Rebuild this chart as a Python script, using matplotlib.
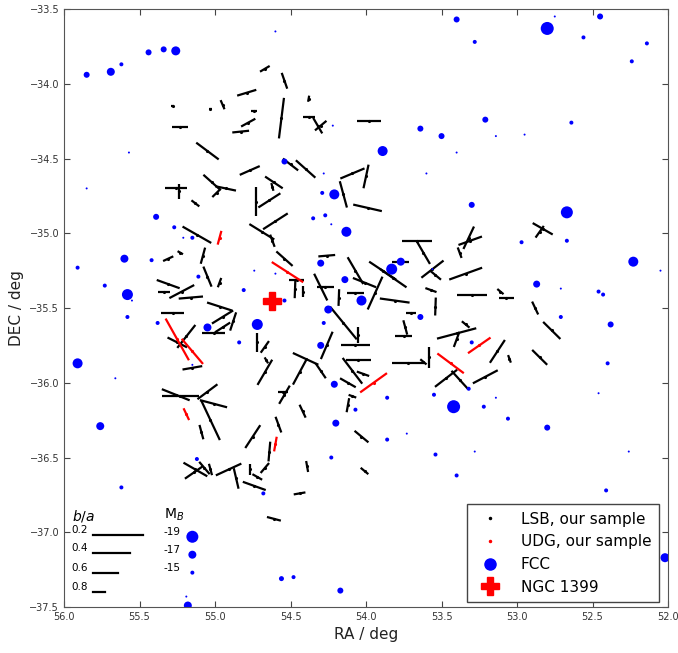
import numpy as np
import matplotlib
matplotlib.use("Agg")
import matplotlib.pyplot as plt
from matplotlib.collections import LineCollection
from matplotlib.lines import Line2D

# LSB galaxies, our sample: RA, DEC (deg), position angle (deg, N through E), axis ratio b/a
lsb_ra = [54.67, 54.54, 54.79, 54.95, 55.03, 55.28, 54.74, 54.56, 54.38, 54.38,
          54.32, 54.30, 53.98, 55.23, 54.78, 54.83, 55.05, 54.77, 54.50, 54.40,
          55.26, 55.24, 55.02, 54.93, 54.99, 54.61, 54.62, 55.13, 54.73, 54.64,
          54.09, 54.15, 54.00, 53.99, 55.12, 54.69, 54.60, 54.62, 55.08, 55.23,
          55.31, 54.54, 54.47, 54.42, 54.46, 55.05, 54.97, 55.31, 55.22, 55.34,
          55.16, 54.97, 55.28, 54.88, 54.95, 55.19, 55.25, 55.01, 54.95, 55.15,
          54.72, 54.67, 54.66, 54.67, 54.40, 54.44, 54.30, 54.26, 54.15, 54.30,
          54.27, 54.26, 54.18, 54.07, 54.07, 54.01, 53.89, 53.82, 53.94, 53.81,
          54.07, 54.05, 54.09, 54.05, 54.02, 54.12, 54.09, 54.42, 54.54, 54.55,
          55.26, 55.23, 55.05, 55.01, 55.03, 55.09, 54.75, 54.58, 54.64, 55.13,
          55.14, 55.07, 55.03, 54.91, 54.86, 54.74, 54.77, 54.72, 54.67, 54.39,
          54.44, 54.61, 54.01, 54.03, 54.12, 52.83, 52.85, 53.66, 53.62, 53.32,
          53.31, 53.38, 53.77, 53.56, 53.54, 53.34, 53.57, 53.54, 53.30, 53.07,
          53.11, 52.88, 53.70, 53.74, 53.75, 53.40, 53.34, 53.40, 53.13, 53.05,
          52.85, 52.77, 53.72, 53.58, 53.62, 53.47, 53.38, 53.21]
lsb_dec = [-33.90, -33.98, -34.06, -34.14, -34.17, -34.15, -34.18, -34.23, -34.10, -34.22,
           -34.28, -34.28, -34.25, -34.29, -34.26, -34.32, -34.45, -34.58, -34.54, -34.57,
           -34.70, -34.72, -34.66, -34.70, -34.73, -34.66, -34.69, -34.80, -34.79, -34.78,
           -34.60, -34.74, -34.62, -34.83, -35.01, -34.99, -34.92, -35.05, -35.15, -35.13,
           -35.17, -35.17, -35.37, -35.39, -35.31, -35.29, -35.33, -35.34, -35.39, -35.39,
           -35.43, -35.49, -35.53, -35.59, -35.56, -35.69, -35.73, -35.67, -35.63, -35.90,
           -35.73, -35.76, -35.85, -35.93, -35.84, -35.93, -35.92, -35.75, -35.60, -35.36,
           -35.36, -35.15, -35.43, -35.40, -35.25, -35.33, -35.25, -35.30, -35.40, -35.45,
           -35.75, -35.68, -35.92, -35.85, -35.94, -36.00, -36.09, -36.19, -36.08, -36.06,
           -36.08, -36.09, -36.06, -36.14, -36.25, -36.33, -36.36, -36.28, -36.46, -36.58,
           -36.60, -36.57, -36.58, -36.58, -36.64, -36.69, -36.58, -36.63, -36.57, -36.56,
           -36.74, -36.91, -36.59, -36.36, -36.15, -34.97, -34.99, -35.05, -35.13, -35.03,
           -35.05, -35.13, -35.19, -35.24, -35.28, -35.27, -35.38, -35.49, -35.41, -35.43,
           -35.39, -35.50, -35.53, -35.63, -35.69, -35.67, -35.61, -35.71, -35.79, -35.84,
           -35.83, -35.65, -35.87, -35.83, -35.86, -35.97, -35.98, -35.96]
lsb_pa = [121, 19, 107, 23, 90, 90, 90, 173, 170, 90,
          30, 130, 90, 90, 119, 96, 53, 114, 52, 48,
          90, 0, 48, 78, 135, 56, 15, 52, 0, 123,
          113, 15, 168, 77, 60, 58, 123, 20, 165, 60,
          115, 48, 178, 0, 90, 22, 160, 70, 118, 90,
          95, 72, 90, 162, 122, 142, 63, 90, 123, 100,
          0, 145, 30, 150, 65, 152, 34, 157, 39, 26,
          90, 95, 178, 90, 30, 68, 56, 55, 156, 82,
          90, 0, 37, 90, 70, 60, 70, 25, 150, 90,
          68, 90, 127, 75, 25, 15, 147, 20, 175, 60,
          125, 40, 15, 115, 13, 70, 0, 60, 140, 10,
          100, 75, 50, 50, 170, 60, 145, 90, 30, 155,
          110, 20, 90, 128, 50, 110, 70, 178, 90, 90,
          50, 25, 90, 15, 90, 105, 50, 160, 147, 20,
          45, 45, 90, 0, 50, 128, 42, 118]
lsb_ba = [0.82, 0.73, 0.68, 0.84, 0.95, 0.95, 0.90, 0.34, 0.90, 0.81,
          0.71, 0.76, 0.63, 0.74, 0.74, 0.73, 0.55, 0.65, 0.69, 0.58,
          0.65, 0.77, 0.63, 0.66, 0.81, 0.66, 0.87, 0.84, 0.53, 0.58,
          0.58, 0.56, 0.61, 0.53, 0.47, 0.53, 0.53, 0.79, 0.73, 0.90,
          0.82, 0.65, 0.69, 0.81, 0.76, 0.65, 0.84, 0.61, 0.55, 0.81,
          0.61, 0.58, 0.63, 0.69, 0.60, 0.53, 0.65, 0.63, 0.71, 0.68,
          0.68, 0.77, 0.89, 0.53, 0.55, 0.55, 0.71, 0.52, 0.32, 0.52,
          0.73, 0.73, 0.73, 0.73, 0.50, 0.60, 0.48, 0.48, 0.42, 0.52,
          0.55, 0.74, 0.48, 0.60, 0.79, 0.71, 0.87, 0.77, 0.66, 0.84,
          0.52, 0.40, 0.60, 0.55, 0.29, 0.76, 0.56, 0.73, 0.68, 0.56,
          0.65, 0.74, 0.81, 0.55, 0.66, 0.61, 0.81, 0.82, 0.79, 0.82,
          0.81, 0.77, 0.84, 0.71, 0.77, 0.63, 0.77, 0.52, 0.58, 0.60,
          0.60, 0.82, 0.73, 0.55, 0.77, 0.44, 0.81, 0.71, 0.52, 0.77,
          0.87, 0.77, 0.84, 0.76, 0.73, 0.35, 0.84, 0.74, 0.56, 0.87,
          0.66, 0.61, 0.47, 0.66, 0.87, 0.55, 0.61, 0.55]

# UDGs, our sample
udg_ra = [54.97, 54.52, 55.25, 55.15, 55.19, 54.60, 53.95, 53.25, 53.44]
udg_dec = [-35.03, -35.26, -35.71, -35.79, -36.21, -36.41, -36.00, -35.75, -35.87]
udg_pa = [165, 57, 29, 40, 25, 170, 126, 125, 53]
udg_ba = [0.77, 0.40, 0.23, 0.47, 0.79, 0.76, 0.47, 0.56, 0.47]

# FCC galaxies: RA, DEC, absolute magnitude M_B
fcc_ra = [55.85, 55.69, 55.62, 55.44, 55.34, 55.26, 54.60, 55.57, 55.85, 54.54,
          54.21, 54.22, 54.29, 54.28, 53.40, 52.80, 52.45, 52.75, 53.28, 52.56,
          52.14, 52.24, 53.64, 53.50, 53.21, 52.64, 52.95, 53.14, 53.40, 53.60,
          53.89, 53.30, 52.67, 52.97, 52.67, 52.87, 53.77, 53.83, 53.56, 53.64,
          52.71, 52.46, 52.43, 52.38, 52.40, 52.46, 53.30, 53.32, 52.71, 55.39,
          55.27, 55.21, 55.15, 55.42, 55.11, 54.81, 54.74, 54.60, 54.13, 54.27,
          54.35, 54.23, 54.30, 54.14, 54.03, 54.25, 54.54, 54.72, 55.05, 55.38,
          54.84, 54.30, 54.28, 54.21, 53.86, 54.07, 54.20, 53.86, 55.15, 53.55,
          53.42, 53.22, 53.06, 52.80, 53.73, 53.14, 55.60, 55.91, 55.73, 55.58,
          55.55, 55.58, 55.91, 55.66, 55.76, 52.23, 52.05, 55.12, 55.62, 54.68,
          54.23, 54.56, 54.48, 54.17, 53.54, 53.28, 53.40, 52.26, 52.41, 52.02,
          55.18, 55.19]
fcc_dec = [-33.94, -33.92, -33.87, -33.79, -33.77, -33.78, -33.65, -34.46, -34.70, -34.52,
           -34.74, -34.28, -34.73, -34.60, -33.57, -33.63, -33.55, -33.55, -33.72, -33.69,
           -33.73, -33.85, -34.30, -34.35, -34.24, -34.26, -34.34, -34.35, -34.46, -34.60,
           -34.45, -34.81, -34.86, -35.06, -35.05, -35.34, -35.19, -35.24, -35.24, -35.56,
           -35.56, -35.39, -35.41, -35.61, -35.87, -36.07, -35.73, -36.04, -35.37, -34.89,
           -34.96, -35.03, -35.03, -35.18, -35.29, -35.38, -35.25, -35.27, -34.99, -34.88,
           -34.90, -34.94, -35.20, -35.31, -35.45, -35.51, -35.45, -35.61, -35.63, -35.60,
           -35.73, -35.75, -35.60, -36.01, -36.10, -36.18, -36.27, -36.38, -35.88, -36.08,
           -36.16, -36.16, -36.24, -36.30, -36.34, -36.10, -35.17, -35.23, -35.35, -35.41,
           -35.45, -35.56, -35.87, -35.97, -36.29, -35.19, -35.25, -36.51, -36.70, -36.74,
           -36.50, -37.31, -37.30, -37.39, -36.48, -36.46, -36.62, -36.46, -36.72, -37.17,
           -37.49, -37.43]
fcc_mag = [-16, -17, -15, -16, -16, -17.5, -14, -14, -14, -16,
           -18, -14, -15, -14, -16, -19.5, -16, -14, -15, -15,
           -15, -15, -16, -16, -16, -15, -14, -14, -14, -14,
           -18, -16, -19, -15, -15, -16.5, -17, -18.5, -14, -16,
           -15, -15, -15, -16, -15, -14, -15, -15, -14, -16,
           -15, -14, -15, -15, -15, -15, -14, -14, -18, -15,
           -15, -14, -16.5, -16.5, -18, -17, -15, -18.5, -17, -15,
           -15, -16.5, -15, -16.5, -15, -15, -16.5, -15, -14, -15,
           -19.5, -15, -15, -16, -14, -14, -17, -15, -15, -18.5,
           -14, -15, -18, -14, -17, -18, -14, -15, -15, -15,
           -15, -15.5, -15, -16, -15, -14, -15, -14, -15, -17.5,
           -17, -14]

ngc_ra, ngc_dec = 54.62, -35.45

# key values
key_ba = [0.2, 0.4, 0.6, 0.8]
key_mag = [-19, -17, -15]

SEG = 0.414  # segment length (deg) for b/a = 0


def segments(ra, dec, pa, ba):
    ra, dec = np.asarray(ra), np.asarray(dec)
    pa = np.radians(pa)
    h = SEG * (1 - np.asarray(ba)) / 2
    dra, ddec = h * np.sin(pa), h * np.cos(pa)
    return [[(r - a, d - b), (r + a, d + b)] for r, d, a, b in zip(ra, dec, dra, ddec)]


def msize(m):
    # marker diameter in points from magnitude
    return np.maximum(4 + 2 * (-15 - np.asarray(m)), 1.5) * 0.72


fig = plt.figure(figsize=(6.78, 6.53), dpi=100)
ax = fig.add_axes([0.0944, 0.0704, 0.8909, 0.9158])

ax.add_collection(LineCollection(segments(lsb_ra, lsb_dec, lsb_pa, lsb_ba), colors="k", linewidths=1.6, zorder=2))
ax.plot(lsb_ra, lsb_dec, ".", color="k", ms=2.5, zorder=2)
ax.add_collection(LineCollection(segments(udg_ra, udg_dec, udg_pa, udg_ba), colors="r", linewidths=1.6, zorder=3))
ax.plot(udg_ra, udg_dec, ".", color="r", ms=2.5, zorder=3)

ax.scatter(fcc_ra, fcc_dec, s=msize(fcc_mag) ** 2, c="b", edgecolors="none", zorder=4)
ax.plot(ngc_ra, ngc_dec, "P", color="r", ms=13, mec="r", zorder=5)

# b/a and M_B key
ax.text(55.95, -36.89, "$b/a$", fontsize=10, va="center", ha="left")
ax.text(55.34, -36.88, "M$_B$", fontsize=10, va="center", ha="left")
key_y = [-37.02, -37.14, -37.27, -37.40]
for ba, y in zip(key_ba, key_y):
    ax.text(55.95, y, f"{ba:.1f}", fontsize=7.5, va="bottom", ha="left")
    ax.plot([55.81, 55.81 - SEG * (1 - ba)], [y, y], color="k", lw=1.6)
mag_y = [-37.03, -37.15, -37.27]
for m, y in zip(key_mag, mag_y):
    ax.text(55.34, y, f"{m}", fontsize=7.5, va="bottom", ha="left")
    ax.scatter([55.15], [y], s=msize(m) ** 2, c="b", edgecolors="none")

ax.set_xlim(56, 52)
ax.set_ylim(-37.5, -33.5)
ax.set_xticks(np.arange(56, 51.9, -0.5))
ax.set_yticks(np.arange(-37.5, -33.4, 0.5))
ax.tick_params(direction="in", top=True, right=True, labelsize=7, length=4, colors="#444444", labelcolor="#333333")
for s in ax.spines.values():
    s.set_color("#555555")
ax.set_xlabel("RA / deg", fontsize=11, color="#222222")
ax.set_ylabel("DEC / deg", fontsize=11, color="#222222")

handles = [
    Line2D([], [], ls="none", marker=".", color="k", ms=3),
    Line2D([], [], ls="none", marker=".", color="r", ms=3),
    Line2D([], [], ls="none", marker="o", color="b", mec="b", ms=8),
    Line2D([], [], ls="none", marker="P", color="r", mec="r", ms=13),
]
labels = ["LSB, our sample", "UDG, our sample", "FCC", "NGC 1399"]
leg = ax.legend(handles, labels, loc="lower right", fontsize=11, fancybox=False,
                edgecolor="#444444", framealpha=1, bbox_to_anchor=(0.985, 0.008),
                borderaxespad=0, handlelength=2.0, handletextpad=1.0,
                labelspacing=0.5, borderpad=0.5)
leg.get_frame().set_linewidth(1)

fig.savefig("out.png", dpi=100)
